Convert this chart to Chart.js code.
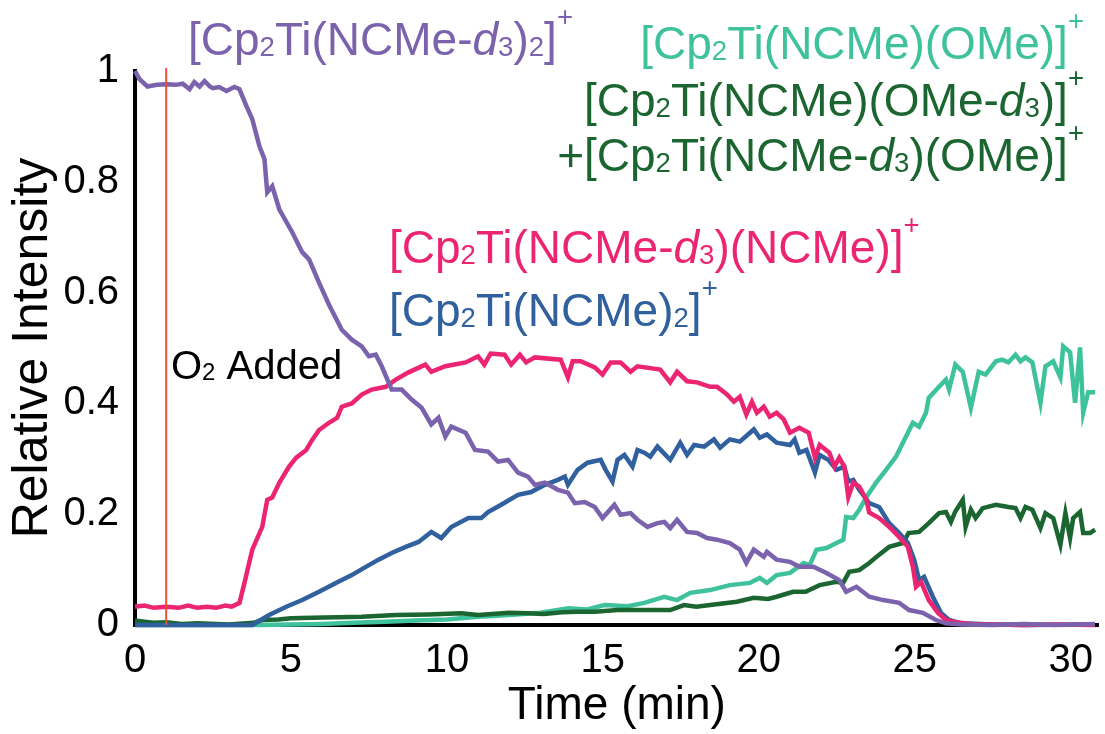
<!DOCTYPE html>
<html>
<head>
<meta charset="utf-8">
<script src="https://cdn.jsdelivr.net/npm/chart.js@4"></script>
<style>
  body { margin: 0; background: #fff; }
  canvas { display: block; }
</style>
</head>
<body>
<canvas id="chart" width="1105" height="734"></canvas>
<script>
// Data (time in min, relative intensity)
const purpleTime = [0, 0.15, 0.4, 0.7, 1.0, 1.3, 1.53, 1.75, 1.9, 2.07, 2.23, 2.4, 2.5, 2.7, 2.93, 3.19, 3.35, 3.57, 3.76, 3.99, 4.15, 4.24, 4.4, 4.63, 5.04, 5.36, 5.58, 5.9, 6.22, 6.63, 6.95, 7.27, 7.5, 7.72, 7.91, 8.13, 8.23, 8.55, 8.87, 9.19, 9.5, 9.73, 9.95, 10.14, 10.6, 10.9, 11.32, 11.64, 11.96, 12.28, 12.6, 12.82, 13.14, 13.56, 13.88, 14.1, 14.42, 14.74, 14.99, 15.37, 15.57, 15.89, 16.11, 16.43, 16.75, 16.97, 17.16, 17.38, 17.7, 18.02, 18.34, 18.66, 19.07, 19.39, 19.6, 19.84, 20.16, 20.26, 20.57, 21.0, 21.3, 21.75, 22.17, 22.58, 22.8, 23.13, 23.54, 23.99, 24.5, 24.82, 25.26, 25.68, 26.0, 26.5, 27.5, 28.5, 29.5, 30.78];
const purpleVal = [1.0, 0.985, 0.972, 0.975, 0.976, 0.975, 0.977, 0.967, 0.98, 0.972, 0.982, 0.972, 0.969, 0.971, 0.964, 0.971, 0.967, 0.937, 0.913, 0.864, 0.841, 0.781, 0.792, 0.75, 0.709, 0.673, 0.66, 0.618, 0.578, 0.533, 0.515, 0.503, 0.485, 0.488, 0.467, 0.438, 0.425, 0.425, 0.407, 0.392, 0.362, 0.374, 0.34, 0.358, 0.347, 0.316, 0.313, 0.295, 0.298, 0.275, 0.268, 0.253, 0.257, 0.244, 0.239, 0.22, 0.222, 0.213, 0.193, 0.217, 0.199, 0.202, 0.19, 0.177, 0.184, 0.186, 0.175, 0.19, 0.168, 0.166, 0.157, 0.154, 0.148, 0.136, 0.112, 0.136, 0.123, 0.132, 0.118, 0.114, 0.105, 0.105, 0.094, 0.081, 0.06, 0.069, 0.051, 0.045, 0.04, 0.027, 0.022, 0.009, 0.003, 0.001, 0.0, 0.002, 0.0, 0.002];

const pinkTime = [0, 0.3, 0.6, 1.0, 1.4, 1.7, 2.0, 2.3, 2.6, 2.9, 3.1, 3.35, 3.51, 3.76, 4.08, 4.24, 4.4, 4.63, 4.94, 5.17, 5.49, 5.68, 5.9, 6.22, 6.48, 6.63, 6.95, 7.27, 7.59, 8.04, 8.36, 8.77, 9.31, 9.5, 9.95, 10.6, 11.0, 11.2, 11.4, 11.85, 12.06, 12.34, 12.54, 12.82, 13.65, 13.88, 14.03, 14.29, 14.74, 14.99, 15.25, 15.57, 15.89, 16.11, 16.84, 17.16, 17.38, 17.7, 18.02, 18.44, 18.66, 18.98, 19.2, 19.39, 19.6, 19.78, 19.94, 20.16, 20.35, 20.57, 20.8, 21.0, 21.3, 21.6, 21.8, 21.95, 22.26, 22.43, 22.58, 22.74, 22.87, 23.03, 23.22, 23.45, 23.54, 23.86, 24.18, 24.5, 24.78, 24.94, 25.04, 25.2, 25.45, 25.74, 26.0, 26.3, 26.8, 27.5, 28.5, 29.5, 30.78];
const pinkVal = [0.033, 0.035, 0.031, 0.033, 0.031, 0.035, 0.031, 0.033, 0.031, 0.035, 0.033, 0.04, 0.076, 0.136, 0.177, 0.226, 0.23, 0.257, 0.286, 0.302, 0.316, 0.334, 0.352, 0.365, 0.374, 0.394, 0.4, 0.416, 0.425, 0.43, 0.443, 0.456, 0.47, 0.457, 0.467, 0.474, 0.485, 0.47, 0.49, 0.488, 0.47, 0.488, 0.474, 0.483, 0.479, 0.447, 0.476, 0.476, 0.465, 0.452, 0.474, 0.474, 0.457, 0.467, 0.461, 0.438, 0.457, 0.44, 0.438, 0.43, 0.43, 0.416, 0.403, 0.412, 0.38, 0.403, 0.383, 0.394, 0.376, 0.383, 0.371, 0.347, 0.356, 0.347, 0.302, 0.325, 0.311, 0.286, 0.302, 0.286, 0.231, 0.257, 0.25, 0.226, 0.203, 0.193, 0.177, 0.159, 0.141, 0.105, 0.069, 0.078, 0.045, 0.022, 0.009, 0.005, 0.002, 0.001, 0.0, 0.001, 0.0];

const blueTime = [0, 1.0, 2.0, 3.0, 3.76, 4.3, 4.85, 5.36, 5.9, 6.44, 6.95, 7.4, 7.81, 8.23, 8.68, 9.09, 9.5, 9.82, 10.14, 10.69, 11.1, 11.32, 11.74, 12.28, 12.7, 13.14, 13.56, 13.78, 13.88, 14.19, 14.51, 14.93, 15.09, 15.31, 15.47, 15.69, 15.95, 16.11, 16.33, 16.52, 16.75, 17.16, 17.48, 17.7, 17.93, 18.25, 18.56, 18.76, 19.07, 19.39, 19.84, 20.03, 20.26, 20.57, 21.0, 21.15, 21.3, 21.53, 21.8, 21.95, 22.23, 22.49, 22.74, 22.87, 23.03, 23.22, 23.54, 23.86, 24.18, 24.5, 24.78, 24.98, 25.14, 25.3, 25.58, 25.84, 26.1, 26.5, 27.5, 28.5, 30.78];
const blueVal = [0.0, 0.0, 0.0, 0.0, 0.0, 0.018, 0.033, 0.045, 0.06, 0.076, 0.09, 0.105, 0.118, 0.13, 0.141, 0.15, 0.168, 0.157, 0.177, 0.193, 0.193, 0.204, 0.217, 0.235, 0.24, 0.253, 0.262, 0.268, 0.253, 0.28, 0.293, 0.298, 0.28, 0.259, 0.298, 0.307, 0.286, 0.316, 0.311, 0.304, 0.322, 0.298, 0.329, 0.307, 0.325, 0.322, 0.335, 0.32, 0.335, 0.331, 0.353, 0.338, 0.344, 0.329, 0.325, 0.335, 0.311, 0.316, 0.275, 0.307, 0.298, 0.28, 0.286, 0.259, 0.262, 0.244, 0.22, 0.213, 0.184, 0.166, 0.148, 0.118, 0.081, 0.087, 0.051, 0.022, 0.009, 0.003, 0.001, 0.0, 0.001];

const tealTime = [0, 2.0, 4.0, 5.0, 6.0, 7.0, 8.0, 9.0, 10.0, 11.0, 12.0, 13.0, 13.9, 14.5, 15.05, 15.8, 16.33, 16.97, 17.38, 17.8, 18.44, 19.07, 19.71, 20.03, 20.26, 20.57, 21.0, 21.44, 21.63, 21.85, 22.17, 22.49, 22.71, 22.8, 23.03, 23.22, 23.45, 23.76, 24.08, 24.4, 24.62, 24.94, 25.14, 25.36, 25.45, 25.78, 26.0, 26.1, 26.3, 26.54, 26.8, 27.05, 27.27, 27.6, 27.8, 28.0, 28.23, 28.39, 28.55, 28.77, 29.03, 29.19, 29.44, 29.67, 29.76, 29.98, 30.14, 30.3, 30.4, 30.56, 30.78];
const tealVal = [0.0, 0.0, 0.0, 0.001, 0.002, 0.004, 0.006, 0.008, 0.01, 0.015, 0.018, 0.022, 0.03, 0.028, 0.036, 0.034, 0.04, 0.051, 0.045, 0.058, 0.063, 0.072, 0.076, 0.085, 0.076, 0.09, 0.094, 0.112, 0.108, 0.136, 0.139, 0.148, 0.154, 0.195, 0.193, 0.208, 0.231, 0.257, 0.28, 0.304, 0.329, 0.365, 0.358, 0.383, 0.41, 0.43, 0.443, 0.425, 0.47, 0.457, 0.392, 0.457, 0.452, 0.476, 0.479, 0.474, 0.488, 0.476, 0.483, 0.474, 0.401, 0.467, 0.476, 0.447, 0.503, 0.492, 0.401, 0.501, 0.383, 0.42, 0.42];

const greenTime = [0, 0.3, 0.6, 1.0, 1.5, 2.0, 3.0, 3.8, 4.08, 4.6, 5.0, 5.68, 6.5, 7.27, 8.36, 9.4, 10.46, 11.0, 12.0, 12.6, 13.1, 13.7, 14.2, 14.74, 15.47, 16.33, 17.16, 17.6, 18.0, 18.44, 19.3, 19.84, 20.3, 20.57, 21.1, 21.5, 21.95, 22.49, 22.7, 22.9, 23.22, 23.54, 23.86, 24.18, 24.62, 24.8, 25.14, 25.45, 25.78, 26.0, 26.16, 26.3, 26.54, 26.63, 26.8, 26.95, 27.18, 27.6, 28.0, 28.23, 28.39, 28.55, 28.77, 29.03, 29.19, 29.44, 29.67, 29.83, 29.98, 30.08, 30.3, 30.4, 30.62, 30.78];
const greenVal = [0.008, 0.006, 0.004, 0.005, 0.002, 0.003, 0.001, 0.004, 0.009, 0.01, 0.012, 0.013, 0.014, 0.015, 0.018, 0.019, 0.021, 0.018, 0.022, 0.021, 0.02, 0.023, 0.024, 0.024, 0.027, 0.027, 0.027, 0.036, 0.033, 0.036, 0.042, 0.049, 0.047, 0.051, 0.06, 0.06, 0.072, 0.078, 0.076, 0.096, 0.099, 0.112, 0.127, 0.141, 0.148, 0.166, 0.168, 0.184, 0.202, 0.204, 0.186, 0.205, 0.226, 0.177, 0.208, 0.193, 0.211, 0.217, 0.213, 0.211, 0.193, 0.213, 0.208, 0.175, 0.202, 0.193, 0.145, 0.202, 0.157, 0.193, 0.204, 0.166, 0.166, 0.172];

const o2Time = 1.0; // O2 added marker
const xTicks = [0, 5, 10, 15, 20, 25, 30];
const yTicks = [0, 0.2, 0.4, 0.6, 0.8, 1];

const colors = {
  purple: "#7b62ad",
  pink: "#ec2573",
  blue: "#30609e",
  teal: "#3ec29c",
  green: "#1b6630",
  marker: "#e8503a",
};

const family = '"Liberation Sans", Arial, sans-serif';

// Label text as segments: [text, style]
const labelDefs = [
  { segs: [["[Cp"], ["2", "sub"], ["Ti(NCMe-"], ["d", "it"], ["3", "sub"], [")"], ["2", "sub"], ["]"], ["+", "sup"]], x: 188, y: 55, align: "left", color: colors.purple, size: 46 },
  { segs: [["[Cp"], ["2", "sub"], ["Ti(NCMe)(OMe)]"], ["+", "sup"]], x: 1084, y: 59, align: "right", color: colors.teal, size: 46 },
  { segs: [["[Cp"], ["2", "sub"], ["Ti(NCMe)(OMe-"], ["d", "it"], ["3", "sub"], [")]"], ["+", "sup"]], x: 1084, y: 116, align: "right", color: colors.green, size: 46 },
  { segs: [["+[Cp"], ["2", "sub"], ["Ti(NCMe-"], ["d", "it"], ["3", "sub"], [")(OMe)]"], ["+", "sup"]], x: 1084, y: 171, align: "right", color: colors.green, size: 46 },
  { segs: [["[Cp"], ["2", "sub"], ["Ti(NCMe-"], ["d", "it"], ["3", "sub"], [")(NCMe)]"], ["+", "sup"]], x: 389, y: 263, align: "left", color: colors.pink, size: 46 },
  { segs: [["[Cp"], ["2", "sub"], ["Ti(NCMe)"], ["2", "sub"], ["]"], ["+", "sup"]], x: 389, y: 326, align: "left", color: colors.blue, size: 46 },
  { segs: [["O"], ["2", "sub"], [" Added"]], x: 171, y: 379, align: "left", color: "#000", size: 40 },
];

function toPoints(times, vals) {
  return times.map((t, i) => ({ x: t, y: vals[i] }));
}

function segFont(seg, size) {
  const small = seg[1] === "sub" || seg[1] === "sup";
  const italic = seg[1] === "it" ? "italic " : "";
  return italic + (small ? size * 0.6 : size) + "px " + family;
}

function drawRich(ctx, l) {
  let w = 0;
  l.segs.forEach((seg) => {
    ctx.font = segFont(seg, l.size);
    w += ctx.measureText(seg[0]).width;
  });
  let x = l.align === "right" ? l.x - w : l.x;
  ctx.fillStyle = l.color;
  ctx.textAlign = "left";
  ctx.textBaseline = "alphabetic";
  l.segs.forEach((seg) => {
    ctx.font = segFont(seg, l.size);
    let dy = 0;
    if (seg[1] === "sub") dy = 0.03 * l.size;
    if (seg[1] === "sup") dy = -0.62 * l.size;
    ctx.fillText(seg[0], x, l.y + dy);
    x += ctx.measureText(seg[0]).width;
  });
}

// O2 marker line and text labels
const annotationPlugin = {
  id: "annotations",
  afterDatasetsDraw(chart) {
    const ctx = chart.ctx;
    const area = chart.chartArea;
    const xo = chart.scales.x.getPixelForValue(o2Time);
    ctx.save();
    ctx.strokeStyle = colors.marker;
    ctx.lineWidth = 2;
    ctx.beginPath();
    ctx.moveTo(xo, area.top - 3);
    ctx.lineTo(xo, area.bottom);
    ctx.stroke();
    labelDefs.forEach((l) => drawRich(ctx, l));
    ctx.restore();
  },
};

function lineSet(label, times, vals, color) {
  return {
    label: label,
    data: toPoints(times, vals),
    borderColor: color,
    backgroundColor: color,
    borderWidth: 4.5,
    pointRadius: 0,
    tension: 0,
    fill: false,
    clip: false,
  };
}

new Chart(document.getElementById("chart"), {
  type: "line",
  data: {
    datasets: [
      lineSet("[Cp2Ti(NCMe-d3)2]+", purpleTime, purpleVal, colors.purple),
      lineSet("[Cp2Ti(NCMe-d3)(NCMe)]+", pinkTime, pinkVal, colors.pink),
      lineSet("[Cp2Ti(NCMe)2]+", blueTime, blueVal, colors.blue),
      lineSet("[Cp2Ti(NCMe)(OMe-d3)]+ + [Cp2Ti(NCMe-d3)(OMe)]+", greenTime, greenVal, colors.green),
      lineSet("[Cp2Ti(NCMe)(OMe)]+", tealTime, tealVal, colors.teal),
    ],
  },
  options: {
    responsive: false,
    animation: false,
    layout: { padding: { top: 71, right: 2, left: 0, bottom: 0 } },
    plugins: {
      legend: { display: false },
      tooltip: { enabled: false },
    },
    scales: {
      x: {
        type: "linear",
        min: 0,
        max: 30.9,
        afterFit: (scale) => { scale.height = 109; },
        afterBuildTicks: (scale) => { scale.ticks = xTicks.map((v) => ({ value: v })); },
        grid: { display: false, drawTicks: false },
        border: { display: true, color: "#000", width: 4 },
        ticks: {
          font: { family: family, size: 40 },
          color: "#000",
          padding: 12,
          maxRotation: 0,
          autoSkip: false,
        },
        title: {
          display: true,
          text: "Time (min)",
          font: { family: family, size: 46 },
          color: "#000",
          padding: { top: 0, bottom: 0 },
        },
      },
      y: {
        min: 0,
        max: 1,
        afterFit: (scale) => { scale.width = 135; },
        afterBuildTicks: (scale) => { scale.ticks = yTicks.map((v) => ({ value: v })); },
        grid: { display: false, drawTicks: false },
        border: { display: true, color: "#000", width: 4 },
        ticks: {
          font: { family: family, size: 40 },
          color: "#000",
          padding: 16,
          callback: function (value) {
            if (value === 0 || value === 1) return String(value);
            return value.toFixed(1);
          },
        },
        title: {
          display: true,
          text: "Relative Intensity",
          font: { family: family, size: 50 },
          color: "#000",
          padding: { top: 3, bottom: 0 },
        },
      },
    },
  },
  plugins: [annotationPlugin],
});
</script>
</body>
</html>
